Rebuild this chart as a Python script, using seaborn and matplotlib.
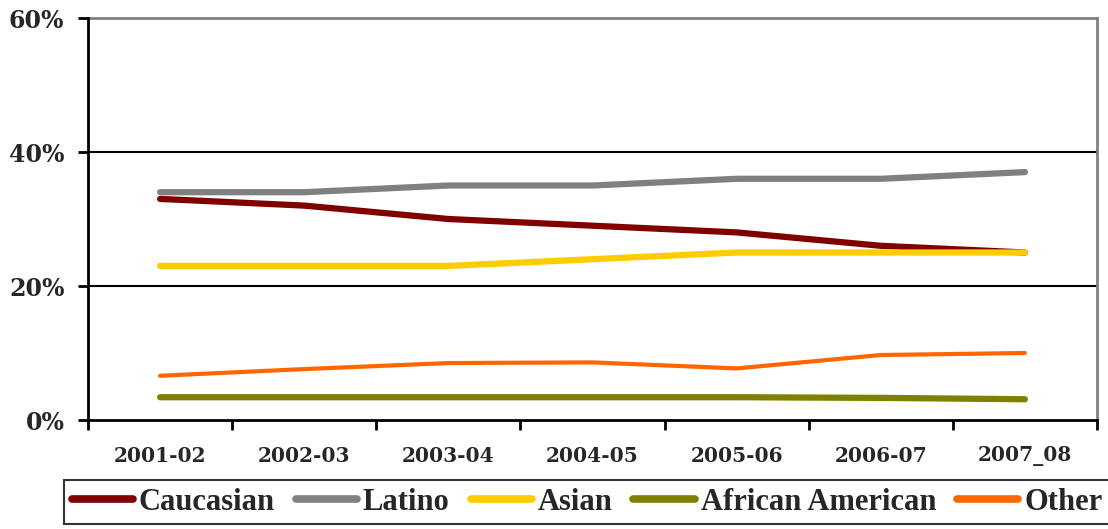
import matplotlib
matplotlib.use("Agg")
import matplotlib.pyplot as plt
import seaborn as sns
import pandas as pd
from matplotlib.lines import Line2D

years = ["2001-02", "2002-03", "2003-04", "2004-05", "2005-06", "2006-07", "2007_08"]
caucasian = [33, 32, 30, 29, 28, 26, 25]
latino = [34, 34, 35, 35, 36, 36, 37]
asian = [23, 23, 23, 24, 25, 25, 25]
african_american = [3.4, 3.4, 3.4, 3.4, 3.4, 3.3, 3.1]
other = [6.6, 7.6, 8.5, 8.6, 7.7, 9.7, 10.0]

series_names = ["Caucasian", "Latino", "Asian", "African American", "Other"]
series_values = [caucasian, latino, asian, african_american, other]
colors = ["#800000", "#808080", "#FFCC00", "#808000", "#FF6600"]
widths = [4.5, 4.5, 4.5, 4.5, 3.0]

rows = []
for name, vals in zip(series_names, series_values):
    for i, (yr, v) in enumerate(zip(years, vals)):
        rows.append({"year": yr, "pos": i, "group": name, "pct": v})
df = pd.DataFrame(rows)

sns.set_style("white")
fig = plt.figure(figsize=(11.08, 5.29), dpi=100)
ax = fig.add_axes([88 / 1108, 1 - 420 / 529, (1097 - 88) / 1108, (420 - 18) / 529])

for name, color, lw in zip(series_names, colors, widths):
    sub = df[df["group"] == name]
    sns.lineplot(data=sub, x="pos", y="pct", ax=ax, color=color, linewidth=lw,
                 solid_capstyle="round", solid_joinstyle="round", legend=False)

ax.set_xlim(-0.5, 6.5)
ax.set_ylim(0, 60)
ax.set_xlabel("")
ax.set_ylabel("")

# horizontal gridlines
for yv in (20, 40):
    ax.axhline(yv, color="black", linewidth=1.5, zorder=0)
ax.axhline(60, color="#808080", linewidth=2, zorder=0, clip_on=False)

ax.spines["top"].set_visible(False)
ax.spines["right"].set_color("#808080")
ax.spines["right"].set_linewidth(2)
ax.spines["left"].set_color("black")
ax.spines["left"].set_linewidth(2)
ax.spines["bottom"].set_color("black")
ax.spines["bottom"].set_linewidth(2)

ax.set_yticks([0, 20, 40, 60])
ax.set_yticklabels(["0%", "20%", "40%", "60%"], fontfamily="DejaVu Serif",
                   fontweight="bold", fontsize=17)
ax.tick_params(axis="y", direction="out", length=7, width=2, color="black", pad=10, left=True)

ax.set_xticks(range(len(years)))
ax.set_xticklabels(years, fontfamily="DejaVu Serif", fontweight="bold", fontsize=14.5)
ax.tick_params(axis="x", which="major", length=0, pad=19)
ax.set_xticks([i - 0.5 for i in range(len(years) + 1)], minor=True)
ax.tick_params(axis="x", which="minor", direction="out", length=7, width=2,
               color="black", bottom=True)

handles = [Line2D([0], [0], color=c, linewidth=5.5, solid_capstyle="round")
           for c in colors]
leg = fig.legend(handles, series_names, loc="center", ncol=5,
                 bbox_to_anchor=(587 / 1108, 1 - 502 / 529),
                 prop={"family": "Liberation Serif", "weight": "bold", "size": 22},
                 frameon=True, fancybox=False, edgecolor="black",
                 handlelength=2.0, handletextpad=0.2, columnspacing=0.68,
                 borderpad=0.25, borderaxespad=0)
leg.get_frame().set_linewidth(1.5)

fig.savefig("out.png", dpi=100, facecolor="white")
